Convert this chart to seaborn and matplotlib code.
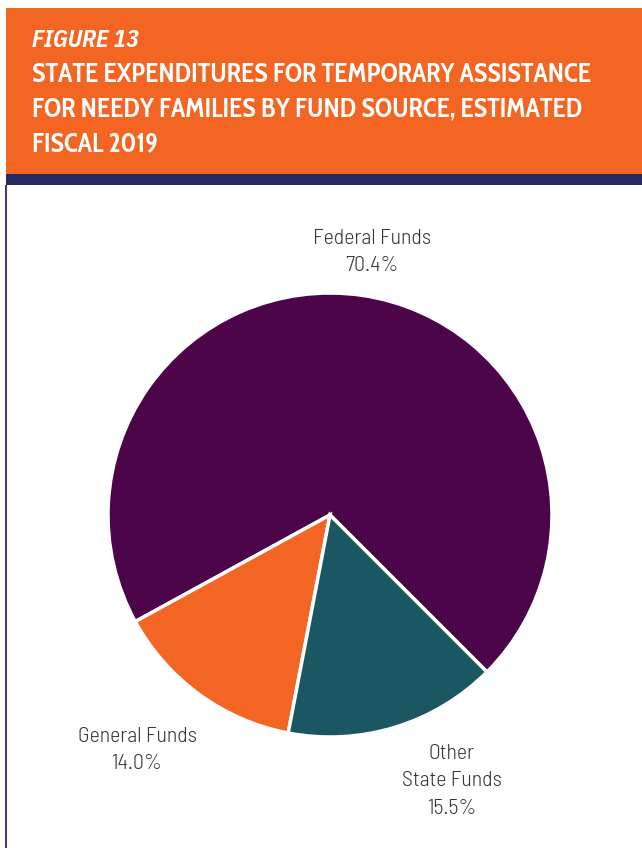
import matplotlib
matplotlib.use("Agg")
import matplotlib.pyplot as plt
from matplotlib.patches import Rectangle
from matplotlib import font_manager
from matplotlib.font_manager import FontProperties
from matplotlib.textpath import TextPath
import seaborn as sns

# Fund sources and their shares of estimated fiscal 2019 spending
sources = ["Federal Funds", "General Funds", "Other\nState Funds"]
shares = [70.4, 14.0, 15.5]
slice_colors = ["#4B0548", "#F26522", "#1B5663"]

title_kicker = "FIGURE 13"
title_lines = [
    "STATE EXPENDITURES FOR TEMPORARY ASSISTANCE",
    "FOR NEEDY FAMILIES BY FUND SOURCE, ESTIMATED",
    "FISCAL 2019",
]

sns.set_theme(style="white")

DPI = 100
W, H = 642, 848

families = ["Liberation Sans Narrow", "Roboto Condensed", "Barlow Condensed",
            "Barlow Semi Condensed", "Asap Condensed", "Cabin Condensed",
            "Archivo Narrow", "PT Sans Narrow", "Fira Sans Condensed",
            "IBM Plex Sans Condensed", "Encode Sans Condensed", "Open Sans Condensed"]

faces = {}
for f in font_manager.fontManager.ttflist:
    faces.setdefault(f.name, set()).add((f.weight, f.style))

def glyph_box(text, prop):
    ext = TextPath((0, 0), text, size=100, prop=prop).get_extents()
    return ext.width, ext.height

def choose_font(sample, weights, style, cap_px, width_px, pool=families):
    """Pick the condensed face whose width/cap-height proportion suits the sample."""
    best = None
    for fam in pool:
        for w in weights:
            if (w, style) not in faces.get(fam, ()):
                continue
            prop = FontProperties(family=fam, weight=w, style=style)
            wid, _ = glyph_box(sample, prop)
            _, cap = glyph_box("H", prop)
            score = abs(wid / cap - width_px / cap_px)
            if best is None or score < best[0]:
                best = (score, fam, w, wid, cap)
            break
    if best is None:
        return None
    _, fam, w, wid, cap = best
    size_w = width_px / (wid / 100 * DPI / 72)
    size_c = cap_px / (cap / 100 * DPI / 72)
    return fam, w, size_w, size_c

def fallback(sample, weight, style, cap_px):
    prop = FontProperties(family="DejaVu Sans", weight=weight, style=style)
    _, cap = glyph_box("H", prop)
    wid, _ = glyph_box(sample, prop)
    s = cap_px / (cap / 100 * DPI / 72)
    return "DejaVu Sans", weight, s, s

head = choose_font(title_lines[0], [700, 600, 800], "normal", 19, 556) \
    or fallback(title_lines[0], 700, "normal", 14)
kick = choose_font(title_kicker, [700, 600, 800], "italic", 16.7, 105, pool=[head[0]]) \
    or choose_font(title_kicker, [700, 600, 800], "italic", 16.7, 105) \
    or fallback(title_kicker, 700, "italic", 16.7)
lab = choose_font("Federal Funds", [300], "normal", 15.3, 116) \
    or choose_font("Federal Funds", [400], "normal", 15.3, 116) \
    or fallback("Federal Funds", 400, "normal", 13)

fig = plt.figure(figsize=(W / DPI, H / DPI), dpi=DPI)
fig.patch.set_facecolor("white")

def px_rect(x0, y0, x1, y1, color):
    fig.patches.append(Rectangle((x0 / W, 1 - y1 / H), (x1 - x0) / W, (y1 - y0) / H,
                                 transform=fig.transFigure, facecolor=color,
                                 edgecolor="none", zorder=0))

# Header band, navy rule and left frame line
px_rect(6, 8, W, 174, "#F26522")
px_rect(6, 174, W, 185, "#262A5E")
px_rect(5.5, 185, 7, H, "#3B3B86")

fig.text(32 / W, 1 - 46.7 / H, title_kicker, color="white",
         fontsize=0.5 * (kick[2] + kick[3]),
         family=[kick[0], "DejaVu Sans"], fontweight=kick[1], fontstyle="italic",
         va="baseline", ha="left")
for i, line in enumerate(title_lines):
    fig.text(32 / W, 1 - (81.6 + 34.7 * i) / H, line, color="white",
             fontsize=min(head[2], 0.5 * (head[2] + head[3])),
             family=[head[0], "DejaVu Sans"], fontweight=head[1],
             va="baseline", ha="left")

# Pie
cx, cy, r = 330, 515, 222
ax = fig.add_axes([(cx - r) / W, 1 - (cy + r) / H, 2 * r / W, 2 * r / H])
ax.pie(shares, colors=slice_colors, startangle=-45, counterclock=True,
       radius=1, wedgeprops=dict(edgecolor="white", linewidth=2.5))
ax.set_xlim(-1, 1)
ax.set_ylim(-1, 1)
ax.set_aspect("equal")
ax.axis("off")

# Slice labels: centre x and first baseline (pixels), one text line per row
label_anchor = [(372, 244), (137, 742), (452, 759.3)]
pitch = 27.2
lab_size = 0.5 * (lab[2] + lab[3])
for name, val, (lx, ly) in zip(sources, shares, label_anchor):
    rows = name.split("\n") + [f"{val:.1f}%"]
    for j, row in enumerate(rows):
        ax.text((lx - cx) / r, (cy - (ly + j * pitch)) / r, row, ha="center",
                va="baseline", fontsize=lab_size, color="#363636",
                family=[lab[0], "DejaVu Sans"], fontweight=lab[1])

fig.savefig("out.png", dpi=DPI)
